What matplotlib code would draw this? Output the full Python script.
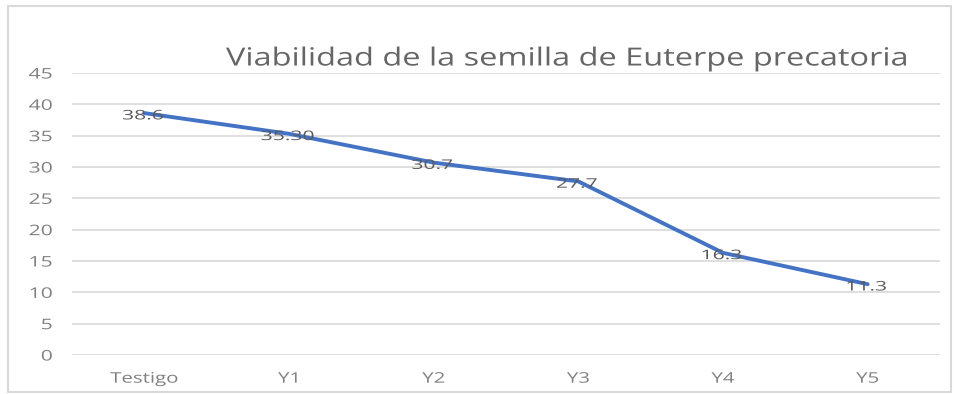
import matplotlib
matplotlib.use("Agg")
import matplotlib.pyplot as plt
from matplotlib.patches import Rectangle
from matplotlib.patheffects import AbstractPathEffect
from matplotlib.transforms import Affine2D

categories = ["Testigo", "Y1", "Y2", "Y3", "Y4", "Y5"]
viabilidad = [38.6, 35.30, 30.7, 27.7, 16.3, 11.3]
etiquetas = ["38.6", "35.30", "30.7", "27.7", "16.3", "11.3"]
yticks = [0, 5, 10, 15, 20, 25, 30, 35, 40, 45]
titulo = "Viabilidad de la semilla de Euterpe precatoria"

plt.rcParams["font.family"] = ["Open Sans", "DejaVu Sans"]


class Stretch(AbstractPathEffect):
    """Widen glyphs horizontally around a fixed anchor (left, center or right)."""

    def __init__(self, sx, anchor="center"):
        super().__init__()
        self.sx = sx
        self.anchor = anchor

    def draw_path(self, renderer, gc, tpath, affine, rgbFace=None):
        ext = tpath.get_extents()
        if self.anchor == "left":
            cx = ext.x0
        elif self.anchor == "right":
            cx = ext.x1
        else:
            cx = 0.5 * (ext.x0 + ext.x1)
        t = Affine2D().translate(-cx, 0).scale(self.sx, 1).translate(cx, 0) + affine
        renderer.draw_path(gc, tpath, t, rgbFace)


W, H = 956, 394
fig = plt.figure(figsize=(W / 100, H / 100), dpi=100)
fig.patch.set_facecolor("white")

# chart frame
fig.patches.append(Rectangle((8 / W, 1 - 392 / H), (951 - 8) / W, (392 - 6) / H,
                             transform=fig.transFigure, fill=False,
                             edgecolor="#d9d9d9", linewidth=1.5))

left, right, top, bottom = 72, 940, 73, 355
ax = fig.add_axes([left / W, 1 - bottom / H, (right - left) / W, (bottom - top) / H])

x = list(range(len(categories)))
ax.plot(x, viabilidad, color="#4472C4", linewidth=2.8, solid_capstyle="round", zorder=3)

for xi, yi, t in zip(x, viabilidad, etiquetas):
    ax.annotate(t, (xi, yi), xytext=(-1, -2), textcoords="offset points",
                ha="center", va="center", fontsize=9.5, color="#595959", zorder=4,
                path_effects=[Stretch(1.6, "center")])

ax.set_xlim(-0.5, len(categories) - 0.5)
ax.set_ylim(0, 45)
ax.set_yticks(yticks)
ax.set_xticks(x)
ax.set_xticklabels(categories)
ax.tick_params(axis="both", length=0, labelsize=10.5, labelcolor="#808080")
ax.tick_params(axis="y", pad=14)
ax.tick_params(axis="x", pad=12)
for lbl in ax.get_yticklabels():
    lbl.set_horizontalalignment("right")
    lbl.set_path_effects([Stretch(1.45, "right")])
for lbl in ax.get_xticklabels():
    lbl.set_path_effects([Stretch(1.4, "center")])
ax.grid(axis="y", color="#d9d9d9", linewidth=1.2)
ax.set_axisbelow(True)
for s in ax.spines.values():
    s.set_visible(False)

fig.text(567 / W, 1 - 59 / H, titulo, ha="center", va="center",
         fontsize=18, color="#666666", path_effects=[Stretch(1.3, "center")])

fig.savefig("out.png", dpi=100)
